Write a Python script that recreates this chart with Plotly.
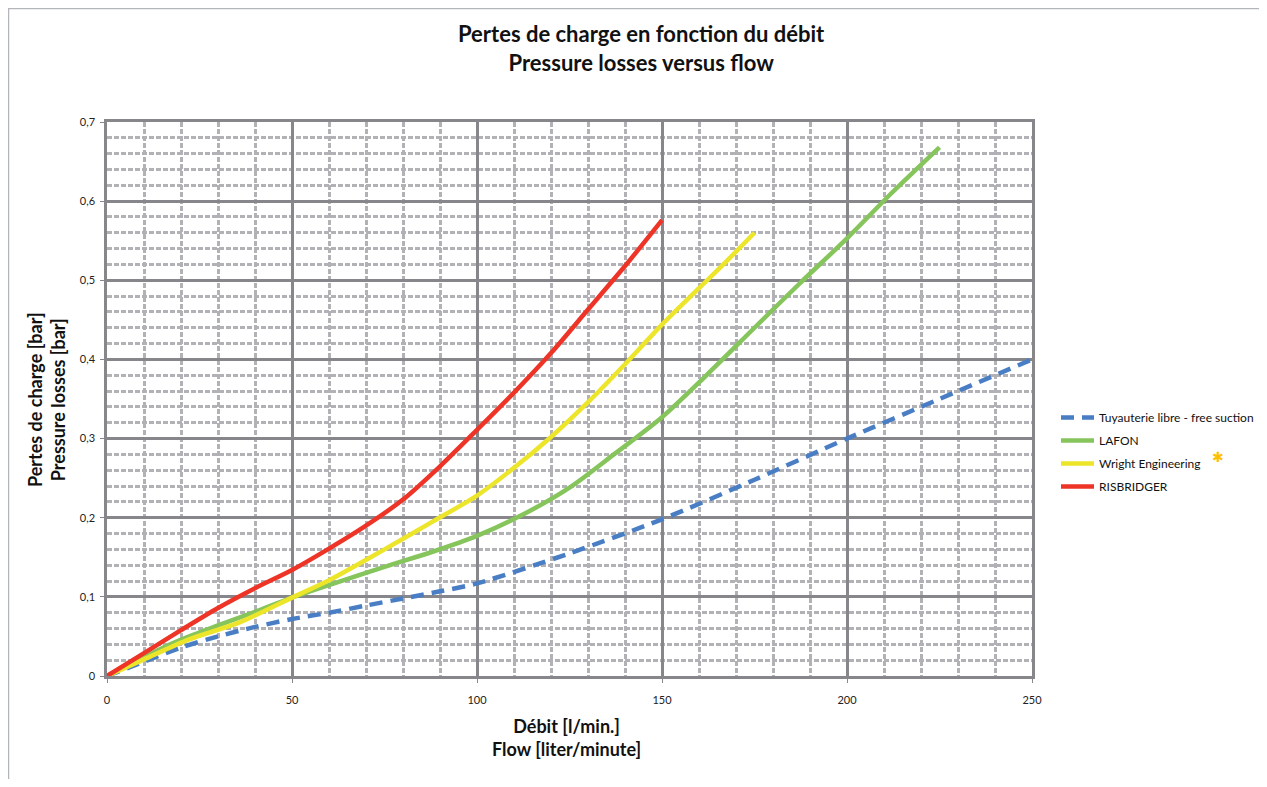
import plotly.graph_objects as go

# ---- data ----
x_free = [0, 10, 20, 30, 40, 50, 60, 70, 80, 90, 100, 125, 150, 175, 200, 225, 250]
y_free = [0, 0.018, 0.036, 0.050, 0.062, 0.072, 0.080, 0.089, 0.098, 0.107, 0.117, 0.155, 0.198, 0.248, 0.300, 0.350, 0.400]

x_lafon = [0, 10, 20, 30, 40, 50, 62, 75, 88, 100, 112, 125, 137, 150, 162, 175, 187, 200, 212, 225]
y_lafon = [0, 0.024, 0.046, 0.064, 0.081, 0.099, 0.118, 0.138, 0.157, 0.177, 0.203, 0.238, 0.280, 0.327, 0.380, 0.440, 0.495, 0.553, 0.610, 0.668]

x_wright = [0, 10, 22, 36, 50, 60, 75, 88, 100, 110, 120, 130, 140, 150, 160, 167, 175]
y_wright = [0, 0.021, 0.046, 0.068, 0.099, 0.121, 0.160, 0.195, 0.228, 0.263, 0.302, 0.346, 0.394, 0.444, 0.490, 0.522, 0.560]

x_ris = [0, 10, 20, 30, 40, 50, 60, 70, 80, 90, 100, 110, 120, 130, 140, 150]
y_ris = [0, 0.029, 0.058, 0.086, 0.111, 0.134, 0.161, 0.190, 0.223, 0.265, 0.311, 0.358, 0.408, 0.463, 0.518, 0.576]

names = ["Tuyauterie libre - free suction", "LAFON", "Wright Engineering", "RISBRIDGER"]
x_ticks = [0, 50, 100, 150, 200, 250]
y_ticks = [0, 0.1, 0.2, 0.3, 0.4, 0.5, 0.6, 0.7]

FONT = "Lato"
OFF = 8  # page body margin
W, H = 1251, 771
L, T = 107 - OFF, 122 - OFF
R = W - (1032 - OFF)
B = H - (676 - OFF)
pw, ph = W - L - R, H - T - B

def px_x(p):
    return (p - OFF - L) / pw

def px_y(p):
    return (H - B - (p - OFF)) / ph

def cx(p):
    return (p - OFF) / W

def cy(p):
    return 1 - (p - OFF) / H

fig = go.Figure()
fig.add_trace(go.Scatter(x=x_free, y=y_free, name=names[0], mode="lines", legendgroup="a",
                         line=dict(color="#4a7ec4", width=4.5, dash="13px,8px", shape="spline", smoothing=0.8)))
fig.add_trace(go.Scatter(x=x_lafon, y=y_lafon, name=names[1], mode="lines", legendgroup="b",
                         line=dict(color="#86c45c", width=4.5, shape="spline", smoothing=0.8)))
fig.add_trace(go.Scatter(x=x_wright, y=y_wright, name=names[2], mode="lines", legendgroup="c",
                         line=dict(color="#ece52a", width=4.5, shape="spline", smoothing=0.8)))
fig.add_trace(go.Scatter(x=x_ris, y=y_ris, name=names[3], mode="lines", legendgroup="d",
                         line=dict(color="#ee3427", width=4.5, shape="spline", smoothing=0.8)))

major = "#86868b"
minor = "#b2b2b6"

fig.update_xaxes(range=[0, 250], tickvals=x_ticks, ticktext=[str(v) for v in x_ticks],
                 showgrid=True, gridcolor=major, gridwidth=2.5,
                 showline=True, linecolor=major, linewidth=2.5, mirror=True,
                 zeroline=False, ticks="outside", ticklen=4, tickcolor=major,
                 ticklabelstandoff=8,
                 tickfont=dict(family=FONT, size=11, color="#222"),
                 minor=dict(dtick=10, showgrid=True, gridcolor=minor, gridwidth=2.5, griddash="5px,2px"))
fig.update_yaxes(range=[0, 0.7], tickvals=y_ticks,
                 ticktext=[("0" if v == 0 else f"{v:.1f}".replace(".", ",")) for v in y_ticks],
                 showgrid=True, gridcolor=major, gridwidth=2.5,
                 showline=True, linecolor=major, linewidth=2.5, mirror=True,
                 zeroline=False, ticks="outside", ticklen=4, tickcolor=major,
                 ticklabelstandoff=3,
                 tickfont=dict(family=FONT, size=11, color="#222"),
                 minor=dict(dtick=0.02, showgrid=True, gridcolor=minor, gridwidth=2.5, griddash="5px,2px"))

# outer chart frame
fig.add_shape(type="rect", xref="paper", yref="paper",
              x0=px_x(OFF + 0.5), x1=px_x(1300), y0=px_y(820), y1=px_y(OFF + 0.5),
              fillcolor="white", line=dict(color="#b2b6ba", width=1.5), layer="below")

fig.add_annotation(xref="paper", yref="paper", x=px_x(641), y=px_y(48), showarrow=False,
                   xanchor="center", yanchor="middle",
                   text="<b>Pertes de charge en fonction du débit<br>Pressure losses versus flow</b>",
                   font=dict(family=FONT, size=22, color="#111"), align="center")
fig.add_annotation(xref="paper", yref="paper", x=px_x(566), y=px_y(737), showarrow=False,
                   xanchor="center", yanchor="middle",
                   text="<b>Débit [l/min.]<br>Flow [liter/minute]</b>",
                   font=dict(family=FONT, size=18, color="#111"), align="center")
fig.add_annotation(xref="paper", yref="paper", x=px_x(46), y=px_y(399), showarrow=False,
                   xanchor="center", yanchor="middle",
                   text="<b>Pertes de charge [bar]<br>Pressure losses [bar]</b>", textangle=-90,
                   font=dict(family=FONT, size=18, color="#111"), align="center")
fig.add_annotation(xref="paper", yref="paper", x=px_x(1218), y=px_y(457), showarrow=False,
                   xanchor="center", yanchor="middle",
                   text="✱", font=dict(family="DejaVu Sans", size=14, color="#ffc000"))

fig.update_layout(
    width=W, height=H,
    margin=dict(l=L, r=R, t=T, b=B, autoexpand=False),
    paper_bgcolor="white", plot_bgcolor="white",
    separators=", ",
    font=dict(family=FONT),
    legend=dict(xref="container", yref="container", x=cx(1056), y=cy(403),
                xanchor="left", yanchor="top",
                font=dict(family=FONT, size=12, color="#111"),
                bgcolor="rgba(0,0,0,0)", tracegroupgap=4, itemwidth=33),
    showlegend=True,
)

fig.write_html("out.html")
